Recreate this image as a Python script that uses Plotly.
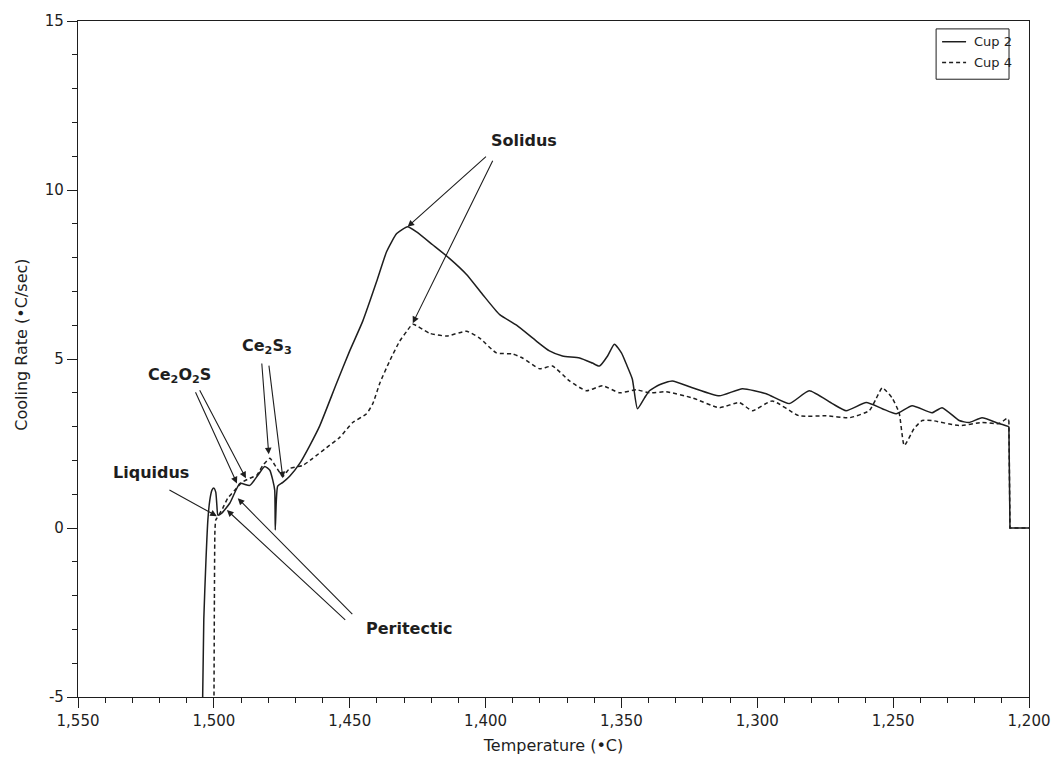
import plotly.graph_objects as go

# Cup 2 cooling-rate trace (solid)
cup2_temp = [1504.3, 1503.7, 1502.9, 1502.2, 1501.5, 1500.7, 1500.0, 1499.3, 1498.9, 1498.5,
             1497.1, 1494.1, 1490.4, 1486.8, 1483.8, 1481.3, 1479.4, 1478.3, 1477.6, 1477.4,
             1477.0, 1476.5, 1474.6, 1472.1, 1468.4, 1464.7, 1461.0, 1454.8, 1450.0, 1445.2,
             1440.1, 1436.4, 1432.7, 1428.7, 1425.4, 1419.5, 1413.2, 1407.0, 1401.1, 1394.9,
             1388.6, 1381.3, 1376.5, 1371.7, 1365.4, 1360.7, 1358.1, 1355.1, 1352.6, 1350.0,
             1348.2, 1346.0, 1344.1, 1341.5, 1339.7, 1336.0, 1331.3, 1323.9, 1314.0, 1305.5,
             1296.7, 1288.2, 1280.9, 1272.4, 1267.3, 1259.9, 1254.0, 1248.9, 1243.0, 1235.7,
             1232.0, 1225.7, 1222.1, 1217.3, 1211.0, 1207.4, 1207.0, 1200.0]
cup2_rate = [-6.0, -2.7, -0.94, 0.24, 0.82, 1.12, 1.18, 1.06, 0.68, 0.38,
             0.44, 0.74, 1.32, 1.26, 1.56, 1.82, 1.71, 1.41, 1.12, -0.06,
             0.82, 1.24, 1.35, 1.53, 1.91, 2.44, 3.03, 4.29, 5.24, 6.12,
             7.29, 8.18, 8.71, 8.91, 8.76, 8.38, 7.97, 7.50, 6.91, 6.32,
             6.00, 5.53, 5.24, 5.09, 5.03, 4.88, 4.79, 5.09, 5.44, 5.18,
             4.85, 4.41, 3.53, 3.85, 4.06, 4.24, 4.35, 4.15, 3.91, 4.12,
             3.97, 3.68, 4.06, 3.68, 3.47, 3.71, 3.53, 3.38, 3.62, 3.41,
             3.56, 3.18, 3.12, 3.26, 3.09, 3.00, 0.0, 0.0]

# Cup 4 cooling-rate trace (dashed)
cup4_temp = [1500.0, 1499.8, 1499.6, 1499.3, 1498.9, 1496.7, 1494.9, 1492.3, 1489.7, 1486.8,
             1484.2, 1482.0, 1479.4, 1477.2, 1474.6, 1472.1, 1467.3, 1463.6, 1458.5, 1453.7,
             1448.9, 1443.8, 1441.5, 1438.9, 1435.3, 1431.6, 1429.0, 1426.8, 1420.6, 1414.3,
             1407.0, 1402.2, 1396.0, 1390.1, 1386.4, 1380.1, 1375.4, 1369.1, 1362.9, 1357.0,
             1350.7, 1344.5, 1339.7, 1333.5, 1323.9, 1314.0, 1306.6, 1301.8, 1294.5, 1284.6,
             1274.6, 1266.2, 1258.8, 1256.3, 1254.0, 1250.4, 1247.8, 1245.9, 1242.3, 1239.3,
             1235.7, 1225.7, 1217.3, 1211.0, 1208.1, 1207.4, 1207.0, 1200.0]
cup4_rate = [-6.0, -2.1, -0.06, 0.24, 0.29, 0.59, 0.88, 1.12, 1.35, 1.47,
             1.56, 1.85, 2.06, 1.82, 1.53, 1.76, 1.85, 2.06, 2.38, 2.68,
             3.12, 3.38, 3.68, 4.29, 4.94, 5.53, 5.82, 6.03, 5.76, 5.68,
             5.82, 5.62, 5.18, 5.15, 5.03, 4.71, 4.79, 4.35, 4.06, 4.21,
             4.00, 4.09, 4.00, 4.03, 3.85, 3.56, 3.71, 3.47, 3.76, 3.32,
             3.32, 3.26, 3.47, 3.82, 4.15, 3.85, 3.41, 2.44, 2.94, 3.18,
             3.18, 3.03, 3.12, 3.09, 3.24, 3.18, 0.0, 0.0]

x_ticks = [1550, 1500, 1450, 1400, 1350, 1300, 1250, 1200]
x_tick_text = ["1,550", "1,500", "1,450", "1,400", "1,350", "1,300", "1,250", "1,200"]
y_ticks = [-5, 0, 5, 10, 15]
y_tick_text = ["-5", "0", "5", "10", "15"]

# Phase labels: (text, x, y) and the arrows leading from them: (tail x, tail y, tip x, tip y)
labels = [
    ("Solidus", 1386.0, 11.47),
    ("Ce<sub>2</sub>S<sub>3</sub>", 1480.5, 5.38),
    ("Ce<sub>2</sub>O<sub>2</sub>S", 1512.5, 4.50),
    ("Liquidus", 1523.0, 1.65),
    ("Peritectic", 1428.0, -2.97),
]
arrows = [
    (1399.3, 11.03, 1428.7, 8.91),
    (1397.1, 10.91, 1426.8, 6.06),
    (1482.4, 4.91, 1479.8, 2.18),
    (1479.8, 4.85, 1474.6, 1.47),
    (1507.0, 4.06, 1491.5, 1.32),
    (1505.5, 4.12, 1488.2, 1.47),
    (1516.9, 1.15, 1498.9, 0.35),
    (1451.1, -2.76, 1495.2, 0.53),
    (1448.5, -2.59, 1491.2, 0.88),
]

INK = "#1e1e1e"
FONT = "DejaVu Sans"
W, H = 1062, 763
ML, MR, MT, MB = 78, 32, 17, 61
PW, PH = W - ML - MR, H - MT - MB


def px(xp):
    return (xp - ML) / PW


def py(yp):
    return 1 - (yp - MT) / PH


fig = go.Figure()
series = [("Cup 2", cup2_temp, cup2_rate, None), ("Cup 4", cup4_temp, cup4_rate, "4px,3px")]
for name, xs, ys, dash in series:
    # smooth body of the trace, then the abrupt step at the end of the run
    fig.add_trace(go.Scatter(x=xs[:-2], y=ys[:-2], mode="lines", name=name, showlegend=False,
                             line=dict(color=INK, width=1.5, dash=dash,
                                       shape="spline", smoothing=0.5)))
    fig.add_trace(go.Scatter(x=xs[-3:], y=ys[-3:], mode="lines", name=name, showlegend=False,
                             line=dict(color=INK, width=1.5, dash=dash)))

annotations = []
for text, lx, ly in labels:
    annotations.append(dict(x=lx, y=ly, xref="x", yref="y", text=text, showarrow=False,
                            font=dict(family=FONT, size=16, color=INK, weight="bold")))
for tx, ty, hx, hy in arrows:
    annotations.append(dict(x=hx, y=hy, ax=tx, ay=ty, xref="x", yref="y",
                            axref="x", ayref="y", text="", showarrow=True,
                            arrowhead=2, arrowsize=1.2, arrowwidth=1.1,
                            arrowcolor=INK))
# y-axis title as rotated text
annotations.append(dict(x=px(22), y=py(345), xref="paper", yref="paper",
                        text="Cooling Rate (•C/sec)", showarrow=False, textangle=-90,
                        xanchor="center", yanchor="middle",
                        font=dict(family=FONT, size=16, color=INK)))

# legend box drawn in pixel positions
shapes = [dict(type="rect", xref="paper", yref="paper", x0=px(937), x1=px(1010),
               y0=py(25), y1=py(76), line=dict(color=INK, width=1), fillcolor="white")]
for i, (name, _, _, dash) in enumerate(series):
    yy = 38 + i * 21
    shapes.append(dict(type="line", xref="paper", yref="paper", x0=px(943), x1=px(967),
                       y0=py(yy), y1=py(yy), line=dict(color=INK, width=1.5, dash=dash or "solid")))
    annotations.append(dict(x=px(973), y=py(yy), xref="paper", yref="paper", text=name,
                            showarrow=False, xanchor="left", yanchor="middle",
                            font=dict(family=FONT, size=13, color=INK)))

axis_common = dict(showline=True, linecolor=INK, linewidth=1.2, mirror=True,
                   ticks="outside", ticklen=10, tickcolor=INK, tickwidth=1,
                   showgrid=False, zeroline=False,
                   tickfont=dict(family=FONT, size=15, color=INK))

fig.update_layout(
    width=W, height=H,
    margin=dict(l=ML, r=MR, t=MT, b=MB),
    paper_bgcolor="white", plot_bgcolor="white",
    showlegend=False,
    annotations=annotations,
    shapes=shapes,
    xaxis=dict(range=[1550, 1200], tickvals=x_ticks, ticktext=x_tick_text,
               minor=dict(ticks="outside", dtick=10, ticklen=5, tickcolor=INK),
               title=dict(text="Temperature (•C)", standoff=10,
                          font=dict(family=FONT, size=16, color=INK)),
               **axis_common),
    yaxis=dict(range=[-5, 15], tickvals=y_ticks, ticktext=y_tick_text,
               minor=dict(ticks="outside", dtick=1, ticklen=5, tickcolor=INK),
               **axis_common),
)

fig.write_html("out.html")
